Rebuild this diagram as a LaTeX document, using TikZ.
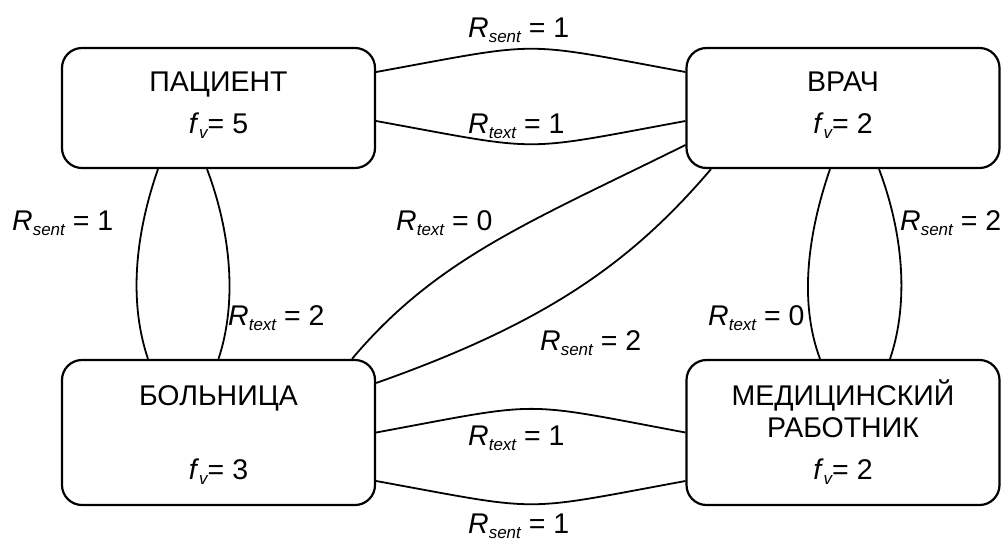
\documentclass[tikz,border=0pt]{standalone}
\usepackage{fontspec}
\setmainfont{Liberation Sans}
\usetikzlibrary{calc}
% italic subscript used in the weights and labels
\newcommand\sbx[1]{\raisebox{-0.2em}{\fontsize{17}{17}\selectfont\itshape #1}}
\newcommand\rlab[2]{\textit{R}\sbx{#1} = #2}
\newcommand\fvw[1]{\textit{f}\sbx{v}= #1}
\begin{document}
\begin{tikzpicture}[x=1pt, y=-1pt,
  box/.style={draw, line width=2.2pt, rounded corners=20pt, minimum width=313pt, inner sep=0pt},
  link/.style={line width=1.8pt},
  txt/.style={font=\fontsize{28.5}{34}\selectfont, inner sep=0pt},
  lab/.style={txt, anchor=base west}]
\useasboundingbox (0,0) rectangle (1006,542);
\fill[white] (0,0) rectangle (1006,542);

% entities
\node[box, minimum height=120pt] (P) at (218.5,108) {};
\node[box, minimum height=120pt] (V) at (843,108) {};
\node[box, minimum height=145pt] (B) at (218.5,432.5) {};
\node[box, minimum height=145pt] (M) at (843,432.5) {};

\node[txt, anchor=base] (Pn) at (218.5,91) {ПАЦИЕНТ};
\node[txt, anchor=base] (Pf) at (218.5,133) {\fvw{5}};
\node[txt, anchor=base] (Vn) at (843,91) {ВРАЧ};
\node[txt, anchor=base] (Vf) at (843,133) {\fvw{2}};
\node[txt, anchor=base] (Bn) at (218.5,405) {БОЛЬНИЦА};
\node[txt, anchor=base] (Bf) at (218.5,479) {\fvw{3}};
\node[txt, anchor=base] (Mn1) at (843,405) {МЕДИЦИНСКИЙ};
\node[txt, anchor=base] (Mn2) at (843,437) {РАБОТНИК};
\node[txt, anchor=base] (Mf) at (843,479) {\fvw{2}};

% links between entities
\draw[link] ([yshift=36pt]P.east) .. controls (546,41) and (517,41) .. ([yshift=36pt]V.west);
\draw[link] ([yshift=-13pt]P.east) .. controls (546,152) and (517,152) .. ([yshift=-13pt]V.west);
\draw[link] (B.east) .. controls (546,401) and (517,401) .. (M.west);
\draw[link] ([yshift=-48.5pt]B.east) .. controls (546,512) and (517,512) .. ([yshift=-48.5pt]M.west);
\draw[link] ([xshift=-60.5pt]P.south) .. controls (136,232) and (128,300) .. ([xshift=-70.5pt]B.north);
\draw[link] ([xshift=-11.5pt]P.south) .. controls (230,230) and (238,300) .. (B.north);
\draw[link] ([xshift=-13pt]V.south) .. controls (809,230) and (798,300) .. ([xshift=-23pt]M.north);
\draw[link] ([xshift=36pt]V.south) .. controls (902,230) and (910,300) .. ([xshift=47pt]M.north);
\draw[link] ([xshift=133.5pt]B.north) .. controls (437,258) and (530,222) .. ([yshift=-37pt]V.west);
\draw[link] ([yshift=49.5pt]B.east) .. controls (546,323) and (631,263) .. ([xshift=-132pt]V.south);

% weights
\node[lab] (l1) at (468,37) {\rlab{sent}{1}};
\node[lab] (l2) at (468,133) {\rlab{text}{1}};
\node[lab] (l3) at (12,230) {\rlab{sent}{1}};
\node[lab] (l4) at (396,230) {\rlab{text}{0}};
\node[lab] (l5) at (900,230) {\rlab{sent}{2}};
\node[lab] (l6) at (228,325) {\rlab{text}{2}};
\node[lab] (l7) at (708,325) {\rlab{text}{0}};
\node[lab] (l8) at (540,350) {\rlab{sent}{2}};
\node[lab] (l9) at (468,445) {\rlab{text}{1}};
\node[lab] (l10) at (468,533) {\rlab{sent}{1}};
\end{tikzpicture}
\end{document}
